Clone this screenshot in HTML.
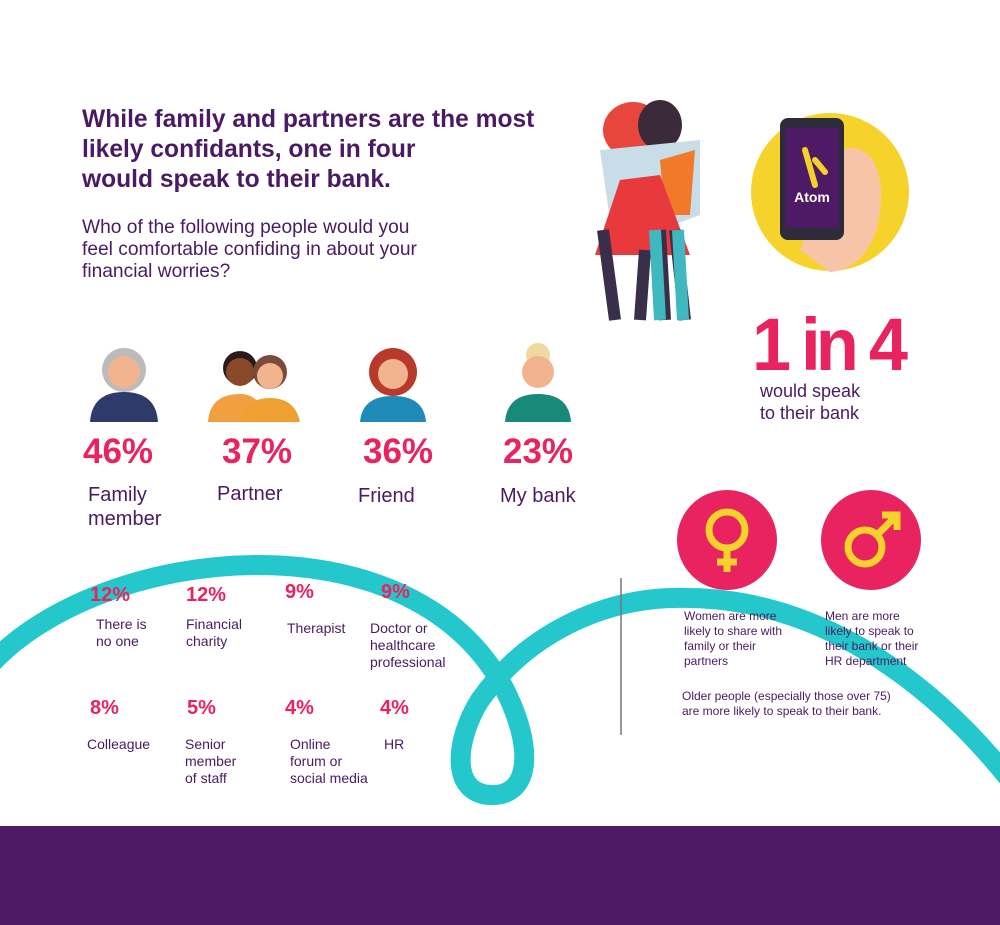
<!DOCTYPE html>
<html><head><meta charset="utf-8"><style>
body{margin:0;width:1000px;height:925px;position:relative;background:#fff;font-family:"Liberation Sans",sans-serif;overflow:hidden;color:#4a1a62}
.a{position:absolute;white-space:nowrap}
.t{font-weight:bold;font-size:24.6px;line-height:30px;color:#4a1a62}
.s{font-size:19.2px;line-height:22px}
.bp{font-weight:bold;font-size:35px;color:#e8235f}
.bl{font-size:20px;line-height:24px}
.sp{font-weight:bold;font-size:20px;color:#e8235f}
.sl{font-size:14px;line-height:17px}
.g{font-size:12px;line-height:15px}
</style></head><body>
<svg class="a" style="left:0;top:0" width="1000" height="925">
<path d="M -10,665 C 100,545 410,510 505,690 C 535,750 530,797 490,795 C 450,793 455,740 480,700 C 530,630 610,595 690,598 C 820,600 930,680 1010,780" fill="none" stroke="#24c8cc" stroke-width="20"/>
<rect x="0" y="826" width="1000" height="99" fill="#4e1a66"/>
<line x1="621" y1="578" x2="621" y2="735" stroke="#777" stroke-width="1.5"/>
<circle cx="830" cy="192" r="79" fill="#f6d32a"/>
<path d="M840,150 C870,140 885,170 880,210 C878,240 860,270 830,272 L800,250 Z" fill="#f7c4a8"/>
<rect x="780" y="118" width="64" height="122" rx="8" fill="#2c2c3a"/>
<rect x="785" y="128" width="54" height="100" fill="#4e1a66"/>
<text x="812" y="202" fill="#fff" font-size="14" font-weight="bold" text-anchor="middle" font-family="Liberation Sans">Atom</text>
<path d="M805,150 L815,185 M815,160 L825,172" stroke="#f5d22a" stroke-width="6" stroke-linecap="round"/>
<circle cx="727" cy="540" r="50" fill="#e8235f"/>
<circle cx="727" cy="530" r="18" fill="none" stroke="#f6d32a" stroke-width="7"/>
<path d="M727,548 V572 M717,562 H737" stroke="#f6d32a" stroke-width="7"/>
<circle cx="871" cy="540" r="50" fill="#e8235f"/>
<circle cx="865" cy="547" r="17" fill="none" stroke="#f6d32a" stroke-width="7"/>
<path d="M877,535 L895,517 M882,515 H897 V530" stroke="#f6d32a" stroke-width="7" fill="none"/>
<ellipse cx="633" cy="130" rx="30" ry="28" fill="#e8453c"/>
<ellipse cx="660" cy="125" rx="22" ry="25" fill="#3a2a3a"/>
<path d="M600,150 L700,140 L700,215 L660,230 L610,220 Z" fill="#c8dde8"/>
<path d="M660,160 L695,150 L690,215 L665,215 Z" fill="#f07a2a"/>
<path d="M620,180 L660,175 L690,255 L595,255 Z" fill="#e8393c"/>
<path d="M603,230 L615,320 M645,250 L640,320 M660,230 L665,320 M675,230 L685,320" stroke="#3a2f4a" stroke-width="12"/>
<path d="M655,230 L660,320 M678,230 L683,320" stroke="#3fb8c0" stroke-width="12"/>
<circle cx="124" cy="370" r="22" fill="#bbb"/><circle cx="124" cy="372" r="16" fill="#f2b48f"/>
<path d="M90,422 Q92,392 124,392 Q156,392 158,422Z" fill="#2d3a6a"/>
<circle cx="240" cy="368" r="17" fill="#2a1a1a"/><circle cx="240" cy="372" r="14" fill="#8a4a2a"/>
<circle cx="270" cy="372" r="17" fill="#7a4a3a"/><circle cx="270" cy="376" r="13" fill="#f2b48f"/>
<path d="M208,422 Q210,394 240,394 Q262,394 265,422Z" fill="#f0a040"/>
<path d="M240,422 Q245,398 270,398 Q295,398 300,422Z" fill="#f0a030"/>
<circle cx="393" cy="372" r="24" fill="#b83a2a"/><circle cx="393" cy="374" r="15" fill="#f2b48f"/>
<path d="M360,422 Q362,396 393,396 Q424,396 426,422Z" fill="#1e8ab8"/>
<circle cx="538" cy="355" r="12" fill="#f0d8a0"/><circle cx="538" cy="372" r="16" fill="#f2b48f"/>
<path d="M505,422 Q507,394 538,394 Q569,394 571,422Z" fill="#178a7a"/>
</svg>
<div class="a t" style="left:82px;top:105px">While family and partners are the most<br>likely confidants, one in four<br>would speak to their bank.</div>
<div class="a s" style="left:82px;top:217px">Who of the following people would you<br>feel comfortable confiding in about your<br>financial worries?</div>
<div class="a" style="left:752px;top:302px;font-size:74px;font-weight:bold;color:#e8235f;letter-spacing:-5px;transform:scaleX(0.95);transform-origin:left">1 in 4</div>
<div class="a bl" style="left:760px;top:380px;font-size:18px;line-height:22px">would speak<br>to their bank</div>
<div class="a bp" style="left:83px;top:432px">46%</div>
<div class="a bp" style="left:222px;top:432px">37%</div>
<div class="a bp" style="left:363px;top:432px">36%</div>
<div class="a bp" style="left:503px;top:432px">23%</div>
<div class="a bl" style="left:88px;top:483px">Family<br>member</div>
<div class="a bl" style="left:217px;top:482px">Partner</div>
<div class="a bl" style="left:358px;top:484px">Friend</div>
<div class="a bl" style="left:500px;top:484px">My bank</div>
<div class="a sp" style="left:90px;top:584px">12%</div>
<div class="a sp" style="left:186px;top:584px">12%</div>
<div class="a sp" style="left:285px;top:581px">9%</div>
<div class="a sp" style="left:381px;top:581px">9%</div>
<div class="a sl" style="left:96px;top:616px">There is<br>no one</div>
<div class="a sl" style="left:186px;top:616px">Financial<br>charity</div>
<div class="a sl" style="left:287px;top:620px">Therapist</div>
<div class="a sl" style="left:370px;top:620px">Doctor or<br>healthcare<br>professional</div>
<div class="a sp" style="left:90px;top:697px">8%</div>
<div class="a sp" style="left:187px;top:697px">5%</div>
<div class="a sp" style="left:285px;top:697px">4%</div>
<div class="a sp" style="left:380px;top:697px">4%</div>
<div class="a sl" style="left:87px;top:736px">Colleague</div>
<div class="a sl" style="left:185px;top:736px">Senior<br>member<br>of staff</div>
<div class="a sl" style="left:290px;top:736px">Online<br>forum or<br>social media</div>
<div class="a sl" style="left:384px;top:736px">HR</div>
<div class="a g" style="left:684px;top:609px">Women are more<br>likely to share with<br>family or their<br>partners</div>
<div class="a g" style="left:825px;top:609px">Men are more<br>likely to speak to<br>their bank or their<br>HR department</div>
<div class="a g" style="left:682px;top:689px">Older people (especially those over 75)<br>are more likely to speak to their bank.</div>
</body></html>
